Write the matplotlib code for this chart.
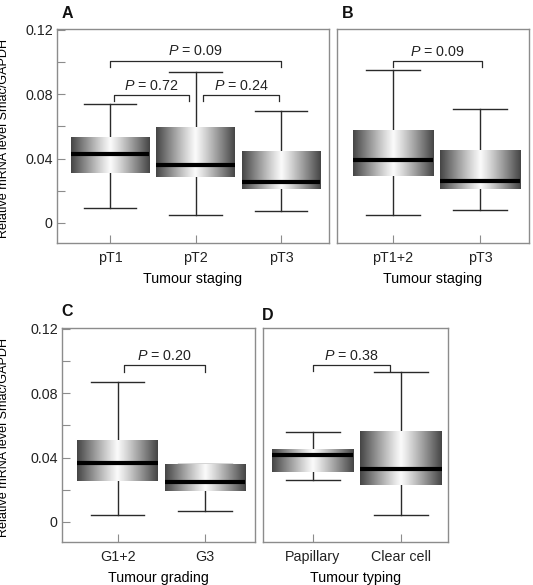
import numpy as np
import matplotlib
matplotlib.use('Agg')
import matplotlib.pyplot as plt

plt.rcParams['font.family'] = ['Liberation Sans', 'DejaVu Sans']
plt.rcParams['mathtext.fontset'] = 'custom'
plt.rcParams['mathtext.it'] = 'Liberation Sans:italic'
plt.rcParams['mathtext.rm'] = 'Liberation Sans'
plt.rcParams['font.size'] = 10.3
plt.rcParams['text.color'] = '#222222'
plt.rcParams['xtick.color'] = '#8c8c8c'
plt.rcParams['ytick.color'] = '#8c8c8c'
plt.rcParams['xtick.labelcolor'] = '#222222'
plt.rcParams['ytick.labelcolor'] = '#222222'

# A: tumour staging, three groups
stage_labels = ['pT1', 'pT2', 'pT3']
stage_lo = [0.0094, 0.0050, 0.0077]
stage_q1 = [0.0310, 0.0283, 0.0213]
stage_med = [0.0431, 0.0358, 0.0252]
stage_q3 = [0.0530, 0.0590, 0.0446]
stage_hi = [0.0738, 0.0940, 0.0696]

# B: tumour staging, pT1+2 vs pT3
merged_labels = ['pT1+2', 'pT3']
merged_lo = [0.0048, 0.0081]
merged_q1 = [0.0290, 0.0213]
merged_med = [0.0390, 0.0263]
merged_q3 = [0.0570, 0.0450]
merged_hi = [0.0950, 0.0706]

# C: tumour grading
grade_labels = ['G1+2', 'G3']
grade_lo = [0.0041, 0.0068]
grade_q1 = [0.0253, 0.0193]
grade_med = [0.0367, 0.0249]
grade_q3 = [0.0508, 0.0359]
grade_hi = [0.0873, 0.0359]

# D: tumour typing
type_labels = ['Papillary', 'Clear cell']
type_lo = [0.0261, 0.0044]
type_q1 = [0.0311, 0.0232]
type_med = [0.0415, 0.0332]
type_q3 = [0.0448, 0.0566]
type_hi = [0.0560, 0.0933]

# p-value brackets: (x1, x2, y, text)
stage_pvals = [(1.0, 3.0, 0.1010, 'P = 0.09'),
               (1.05, 1.92, 0.0796, 'P = 0.72'),
               (2.09, 2.98, 0.0796, 'P = 0.24')]
merged_pvals = [(1.0, 2.02, 0.1008, 'P = 0.09')]
grade_pvals = [(1.07, 2.0, 0.0974, 'P = 0.20')]
type_pvals = [(1.0, 1.88, 0.0976, 'P = 0.38')]

YLIM = (-0.0125, 0.1206)
BOXW = 0.92
CAPW = 0.61

grad_x = np.linspace(-1, 1, 256)
grad = 0.27 + 0.71 * (1 - np.abs(grad_x) ** 1.1)
grad = grad[np.newaxis, :]


def draw_panel(ax, labels, lo, q1, med, q3, hi, pvals, xlim, xlabel, show_y):
    stats = []
    for i in range(len(labels)):
        stats.append(dict(med=med[i], q1=q1[i], q3=q3[i],
                          whislo=lo[i], whishi=hi[i], fliers=[]))
    pos = np.arange(1, len(labels) + 1)
    ax.bxp(stats, positions=pos, widths=BOXW, capwidths=CAPW,
           showfliers=False, patch_artist=True,
           boxprops=dict(facecolor='none', edgecolor='none'),
           whiskerprops=dict(color='#2a2a2a', lw=1),
           capprops=dict(color='#2a2a2a', lw=1),
           medianprops=dict(color='black', lw=3, solid_capstyle='butt', zorder=5))
    for p, s in zip(pos, stats):
        ax.imshow(grad, cmap='gray', vmin=0, vmax=1, aspect='auto',
                  extent=[p - BOXW / 2, p + BOXW / 2, s['q1'], s['q3']],
                  interpolation='bilinear', zorder=3)
    for x1, x2, y, txt in pvals:
        leg = 0.004
        ax.plot([x1, x1, x2, x2], [y - leg, y, y, y - leg], color='#2a2a2a', lw=0.9)
        ax.text((x1 + x2) / 2, y + 0.0058, r'$P$' + txt[1:], ha='center', va='center')
    ax.set_xlim(*xlim)
    ax.set_ylim(*YLIM)
    ax.set_xticks(pos)
    ax.set_xticklabels(labels)
    ax.tick_params(axis='x', direction='in', length=6, pad=6)
    ax.set_xlabel(xlabel, labelpad=5)
    if show_y:
        ax.set_yticks(np.arange(0, 0.121, 0.02))
        ax.set_yticklabels(['0', '', '0.04', '', '0.08', '', '0.12'])
        ax.tick_params(axis='y', direction='in', length=6, pad=3)
        ax.set_ylabel('Relative mRNA level Smac/GAPDH', fontsize=9.1)
    else:
        ax.set_yticks([])
    for sp in ax.spines.values():
        sp.set_color('#8c8c8c')
        sp.set_linewidth(1)


W, H = 533, 585
fig = plt.figure(figsize=(W / 100, H / 100), dpi=100)


def add_ax(x0, y0, x1, y1):
    return fig.add_axes([x0 / W, (H - y1) / H, (x1 - x0) / W, (y1 - y0) / H])


axA = add_ax(57, 29, 329, 243)
axB = add_ax(337, 29, 529, 243)
axC = add_ax(62, 328, 255, 542)
axD = add_ax(263, 328, 448, 542)

draw_panel(axA, stage_labels, stage_lo, stage_q1, stage_med, stage_q3, stage_hi,
           stage_pvals, (0.38, 3.56), 'Tumour staging', True)
draw_panel(axB, merged_labels, merged_lo, merged_q1, merged_med, merged_q3, merged_hi,
           merged_pvals, (0.356, 2.563), 'Tumour staging', False)
draw_panel(axC, grade_labels, grade_lo, grade_q1, grade_med, grade_q3, grade_hi,
           grade_pvals, (0.364, 2.572), 'Tumour grading', True)
draw_panel(axD, type_labels, type_lo, type_q1, type_med, type_q3, type_hi,
           type_pvals, (0.439, 2.532), 'Tumour typing', False)

axA.yaxis.set_label_coords(-(57 - 10.5) / 272, 0.49)
axC.yaxis.set_label_coords(-(62 - 10.5) / 193, 0.49)

for lab, x, y in [('A', 62, 13), ('B', 342, 13), ('C', 61, 311), ('D', 262, 315)]:
    fig.text(x / W, (H - y) / H, lab, fontsize=11.5, fontweight='bold',
             ha='left', va='center', color='#111111')

fig.savefig('out.png', dpi=100)
